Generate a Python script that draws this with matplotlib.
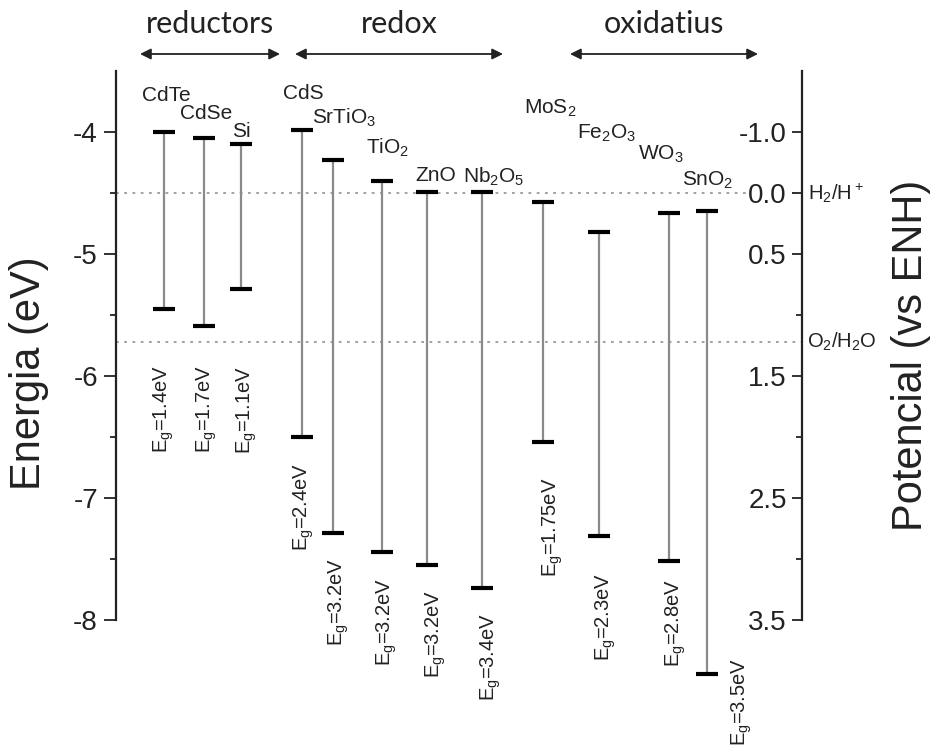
import matplotlib
matplotlib.use("Agg")
import matplotlib.pyplot as plt
import matplotlib.transforms as mtransforms

plt.rcParams['font.family'] = ['Liberation Sans', 'DejaVu Sans']
plt.rcParams['mathtext.default'] = 'regular'
plt.rcParams['axes.unicode_minus'] = False

# ---- data (energies in eV vs vacuum) ----
materials = ['CdTe', 'CdSe', 'Si', 'CdS', 'SrTiO$_3$', 'TiO$_2$', 'ZnO',
             'Nb$_2$O$_5$', 'MoS$_2$', 'Fe$_2$O$_3$', 'WO$_3$', 'SnO$_2$']
cb_edge = [-4.00, -4.05, -4.10, -3.98, -4.23, -4.40, -4.49, -4.49, -4.57, -4.82, -4.66, -4.65]
vb_edge = [-5.45, -5.59, -5.29, -6.50, -7.29, -7.44, -7.55, -7.74, -6.54, -7.31, -7.52, -8.44]
gap_labels = ['1.4', '1.7', '1.1', '2.4', '3.2', '3.2', '3.2', '3.4', '1.75', '2.3', '2.8', '3.5']

left_ticks = [-4, -5, -6, -7, -8]
left_ticklabels = ['-4', '-5', '-6', '-7', '-8']
right_ticks = [-4, -4.5, -5, -6, -7, -8]
right_ticklabels = ['-1.0', '0.0', '0.5', '1.5', '2.5', '3.5']
h2_level = -4.5
o2_level = -5.72

groups = ['reductors', 'redox', 'oxidatius']

# ---- layout (x in pixel-like units of the plot) ----
x_pos = [164, 204, 241, 302, 333, 382, 427, 482, 543, 599, 669, 707]
name_x = [142, 180, 232, 283, 312, 366, 415, 463, 524, 577, 638, 682]
name_y = [-3.745, -3.893, -4.041, -3.729, -3.934, -4.181, -4.402, -4.419,
          -3.852, -4.057, -4.230, -4.444]
eg_x = [164, 207, 247, 304, 339, 387, 436, 491, 553, 606, 676, 742]
eg_top = [-5.905, -5.91, -5.92, -6.71, -7.49, -7.65, -7.75, -7.94,
          -6.83, -7.61, -7.66, -8.31]
group_arrows = [(140, 280), (295, 503), (570, 758)]

W, H = 931, 753
fig = plt.figure(figsize=(W / 100, H / 100), dpi=100)
ax_l, ax_r, ax_t, ax_b = 116, 802, 71, 620
rect = [ax_l / W, 1 - ax_b / H, (ax_r - ax_l) / W, (ax_b - ax_t) / H]
ax = fig.add_axes(rect)
ax.set_xlim(ax_l, ax_r)
ax.set_ylim(-8, -3.5)
ax.patch.set_visible(False)
for s in ['top', 'right', 'bottom']:
    ax.spines[s].set_visible(False)
ax.spines['left'].set_linewidth(1.6)
ax.spines['left'].set_color('#222222')
ax.set_xticks([])
ax.set_yticks(left_ticks)
ax.set_yticklabels(left_ticklabels)
ax.set_yticks([-4.5, -5.5, -6.5, -7.5], minor=True)
ax.tick_params(axis='y', which='major', direction='out', length=9, width=1.3,
               labelsize=20, pad=4, colors='#222222')
ax.tick_params(axis='y', which='minor', direction='out', length=4.5, width=1.3,
               colors='#222222')

# reference levels
dot_style = dict(color='#888888', lw=1.1, linestyle=(0, (1.8, 3.6)), zorder=1)
ax.plot([ax_l, ax_r], [h2_level, h2_level], **dot_style)
ax.plot([ax_l, ax_r], [o2_level, o2_level], **dot_style)

# bands
ax.vlines(x_pos, vb_edge, cb_edge, colors='#8a8a8a', lw=1.6, zorder=2, clip_on=False)
hw = 11
ax.hlines(cb_edge, [x - hw for x in x_pos], [x + hw for x in x_pos],
          colors='black', lw=3, zorder=3, clip_on=False)
ax.hlines(vb_edge, [x - hw for x in x_pos], [x + hw for x in x_pos],
          colors='black', lw=3, zorder=3, clip_on=False)

for name, nx, ny in zip(materials, name_x, name_y):
    ax.text(nx, ny, name, ha='left', va='baseline', fontsize=15,
            color='#222222', clip_on=False)
for g, ex, et in zip(gap_labels, eg_x, eg_top):
    ax.text(ex, et, 'E$_g$=' + g + 'eV', rotation=90, ha='center', va='top',
            fontsize=14.5, color='#222222', clip_on=False)

ax.text(808, h2_level, 'H$_2$/H$^+$', ha='left', va='center', fontsize=14.5,
        color='#222222', clip_on=False)
ax.text(807, o2_level, 'O$_2$/H$_2$O', ha='left', va='center', fontsize=14.5,
        color='#222222', clip_on=False)

# group arrows and labels
trans = mtransforms.blended_transform_factory(ax.transData, ax.transAxes)
y_arrow = (ax_b - 54) / (ax_b - ax_t)
y_glabel = (ax_b - 24) / (ax_b - ax_t)
for g, (x0, x1) in zip(groups, group_arrows):
    ax.annotate('', xy=(x1, y_arrow), xytext=(x0, y_arrow), xycoords=trans,
                textcoords=trans, annotation_clip=False,
                arrowprops=dict(arrowstyle='<|-|>', color='#222222', lw=1.3,
                                mutation_scale=16, shrinkA=0, shrinkB=0))
    ax.text((x0 + x1) / 2, y_glabel, g, transform=trans, ha='center', va='center',
            fontsize=22, family=['Lato', 'DejaVu Sans'], color='#222222')

# right potential axis (spine with ticks/labels on its left)
ax2 = fig.add_axes([ax_r / W, rect[1], 0.0001, rect[3]])
ax2.set_ylim(-8, -3.5)
ax2.patch.set_visible(False)
for s in ['top', 'right', 'bottom']:
    ax2.spines[s].set_visible(False)
ax2.spines['left'].set_linewidth(1.6)
ax2.spines['left'].set_color('#222222')
ax2.set_xticks([])
ax2.set_yticks(right_ticks)
ax2.set_yticklabels(right_ticklabels)
ax2.set_yticks([-5.5, -6.5, -7.5], minor=True)
ax2.tick_params(axis='y', which='major', direction='out', length=7, width=1.3,
                labelsize=20, pad=4, colors='#222222')
ax2.tick_params(axis='y', which='minor', direction='out', length=4, width=1.3,
                colors='#222222')
for lab in ax2.get_yticklabels():
    lab.set_bbox(dict(facecolor='white', edgecolor='none', pad=0.5))

fig.text(29 / W, 1 - 373 / H, 'Energia (eV)', rotation=90, ha='center', va='center',
         fontsize=30, color='#222222')
fig.text(911 / W, 1 - 355 / H, 'Potencial (vs ENH)', rotation=90, ha='center',
         va='center', fontsize=30, color='#222222')

fig.savefig('out.png', dpi=100, facecolor='white')
